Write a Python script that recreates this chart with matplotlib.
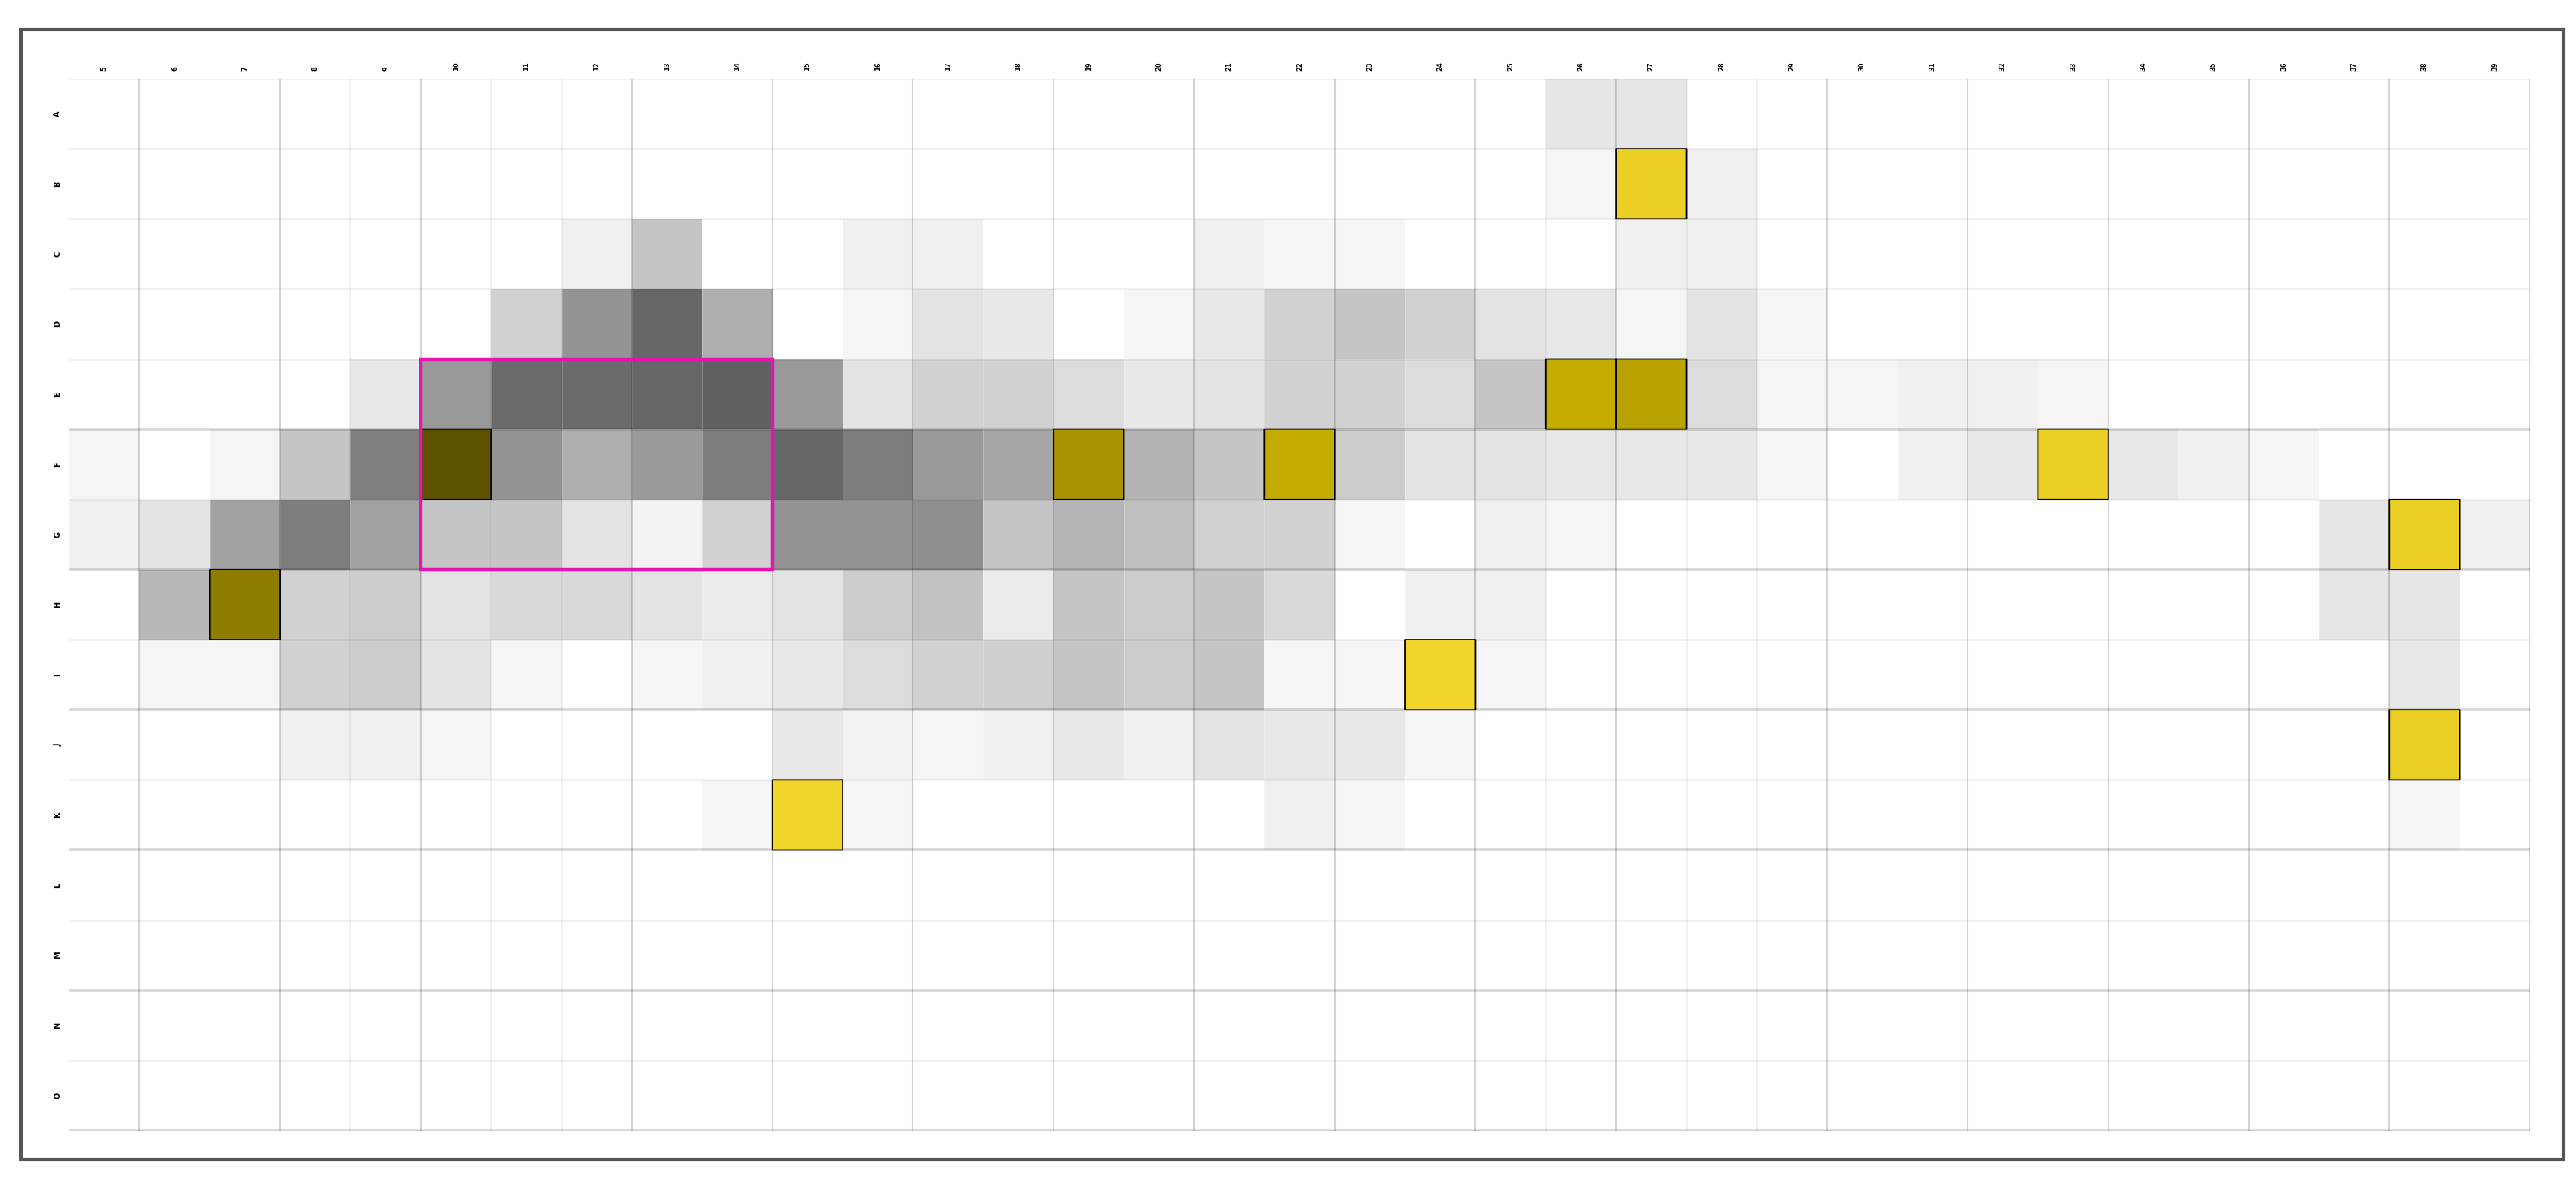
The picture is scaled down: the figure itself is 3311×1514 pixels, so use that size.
import numpy as np
import matplotlib
matplotlib.use("Agg")
import matplotlib.pyplot as plt
from matplotlib.colors import LinearSegmentedColormap
from matplotlib.patches import Rectangle

# ---- data ------------------------------------------------------------------
cols = list(range(5, 40))
rows = list("ABCDEFGHIJKLMNO")

# cell darkness, 0 = empty .. 100 = black, keyed by column label
row_A = {26: 10, 27: 10}
row_B = {26: 4, 27: 4, 28: 6}
row_C = {12: 6, 13: 23, 16: 6, 17: 6, 21: 6, 22: 4, 23: 4, 27: 6, 28: 6}
row_D = {11: 18, 12: 42, 13: 60, 14: 32, 16: 4, 17: 11, 18: 9, 20: 4, 21: 9,
         22: 18, 23: 23, 24: 18, 25: 11, 26: 9, 27: 4, 28: 11, 29: 4}
row_E = {9: 9, 10: 40, 11: 58, 12: 58, 13: 60, 14: 62, 15: 40, 16: 11, 17: 18,
         18: 18, 19: 14, 20: 9, 21: 11, 22: 18, 23: 18, 24: 14, 25: 23, 26: 20,
         27: 24, 28: 14, 29: 4, 30: 4, 31: 6, 32: 6, 33: 4}
row_F = {5: 4, 7: 4, 8: 23, 9: 50, 10: 62, 11: 42, 12: 32, 13: 40, 14: 51,
         15: 60, 16: 51, 17: 40, 18: 35, 19: 31, 20: 30, 21: 23, 22: 20, 23: 20,
         24: 11, 25: 11, 26: 9, 27: 9, 28: 9, 29: 4, 31: 6, 32: 9, 33: 4, 34: 9,
         35: 6, 36: 4}
row_G = {5: 6, 6: 11, 7: 37, 8: 51, 9: 37, 10: 23, 11: 23, 12: 11, 13: 5,
         14: 18, 15: 42, 16: 42, 17: 44, 18: 23, 19: 29, 20: 25, 21: 18, 22: 18,
         23: 4, 25: 6, 26: 4, 37: 10, 38: 4, 39: 6}
row_H = {6: 28, 7: 42, 8: 18, 9: 20, 10: 11, 11: 15, 12: 15, 13: 11, 14: 8,
         15: 11, 16: 20, 17: 24, 18: 8, 19: 23, 20: 20, 21: 23, 22: 15, 24: 6,
         25: 6, 37: 10, 38: 10}
row_I = {6: 4, 7: 4, 8: 18, 9: 20, 10: 11, 11: 4, 13: 4, 14: 6, 15: 9, 16: 14,
         17: 18, 18: 19, 19: 23, 20: 20, 21: 23, 22: 4, 23: 4, 24: 1, 25: 4, 38: 9}
row_J = {8: 6, 9: 6, 10: 4, 15: 9, 16: 5, 17: 4, 18: 6, 19: 9, 20: 6, 21: 11,
         22: 9, 23: 9, 24: 4, 38: 4}
row_K = {14: 4, 15: 1, 16: 4, 22: 6, 23: 4, 38: 4}
row_L, row_M, row_N, row_O = {}, {}, {}, {}

# highlighted cells (row, column)
highlight = [("B", 27), ("E", 26), ("E", 27), ("F", 10), ("F", 19), ("F", 22),
             ("F", 33), ("G", 38), ("H", 7), ("I", 24), ("J", 38), ("K", 15)]
box_cols = (10, 14)
box_rows = ("E", "G")

# group separators
vline_major = [1, 3, 5, 8, 10, 12, 14, 16, 18, 20, 22, 25, 27, 29, 31, 33, 35]
vline_minor = [4, 6, 7, 21, 23, 24]
hline_major = [5, 7, 9, 11, 13, 15]

# ---- build matrix ------------------------------------------------------------
all_rows = [row_A, row_B, row_C, row_D, row_E, row_F, row_G, row_H, row_I,
            row_J, row_K, row_L, row_M, row_N, row_O]
Z = np.zeros((len(rows), len(cols)))
for i, r in enumerate(all_rows):
    for c, v in r.items():
        Z[i, cols.index(c)] = v / 100.0

H = np.zeros_like(Z, dtype=bool)
for r, c in highlight:
    H[rows.index(r), cols.index(c)] = True

grey_cmap = LinearSegmentedColormap.from_list("g", ["#ffffff", "#000000"])
yel_cmap = LinearSegmentedColormap.from_list(
    "y", [(0.0, "#f5d82e"), (0.2, "#c4ab00"), (1.0, "#000000")])

fig = plt.figure(figsize=(33.11, 15.14), dpi=100)
ax = fig.add_axes([89 / 3311, 1 - 1453 / 1514, (3252 - 89) / 3311, (1453 - 101) / 1514])

X = np.arange(len(cols) + 1)
Y = np.arange(len(rows) + 1)
ax.pcolormesh(X, Y, np.ma.masked_where(H, Z), cmap=grey_cmap, vmin=0, vmax=1,
              edgecolors=(1, 1, 1, 0.25), linewidth=0.6, zorder=1)

# grid lines
for k in vline_major:
    ax.axvline(k, color="black", alpha=0.17, lw=1.5, zorder=2)
for k in vline_minor:
    ax.axvline(k, color="black", alpha=0.06, lw=1.3, zorder=2)
for k in range(0, len(rows) + 1):
    if k in hline_major:
        ax.axhline(k, color="black", alpha=0.16, lw=2.6, zorder=2)
    else:
        ax.axhline(k, color="black", alpha=0.05, lw=2.2, zorder=2)

ax.pcolor(X, Y, np.ma.masked_where(~H, Z), cmap=yel_cmap, vmin=0, vmax=1,
          edgecolors="black", linewidth=1.3, zorder=3)

c0, c1 = cols.index(box_cols[0]), cols.index(box_cols[1]) + 1
r0, r1 = rows.index(box_rows[0]), rows.index(box_rows[1]) + 1
ax.add_patch(Rectangle((c0, r0), c1 - c0, r1 - r0, fill=False,
                       edgecolor="#e414b0", lw=3.2, zorder=4))

ax.set_xlim(0, len(cols))
ax.set_ylim(len(rows), 0)
ax.xaxis.tick_top()
ax.set_xticks(np.arange(len(cols)) + 0.5)
ax.set_xticklabels([str(c) for c in cols], rotation=90, fontsize=6, fontweight="bold")
ax.set_yticks(np.arange(len(rows)) + 0.5)
ax.set_yticklabels(rows, rotation=90, fontsize=7, fontweight="bold", va="center")
ax.tick_params(length=0, pad=7)
for s in ax.spines.values():
    s.set_visible(False)

# outer frame
fig.patches.append(Rectangle((27 / 3311, 1 - 1490 / 1514), (3295 - 27) / 3311,
                             (1490 - 38) / 1514, transform=fig.transFigure,
                             fill=False, edgecolor="#555555", lw=3))

fig.savefig("out.png", dpi=100)
